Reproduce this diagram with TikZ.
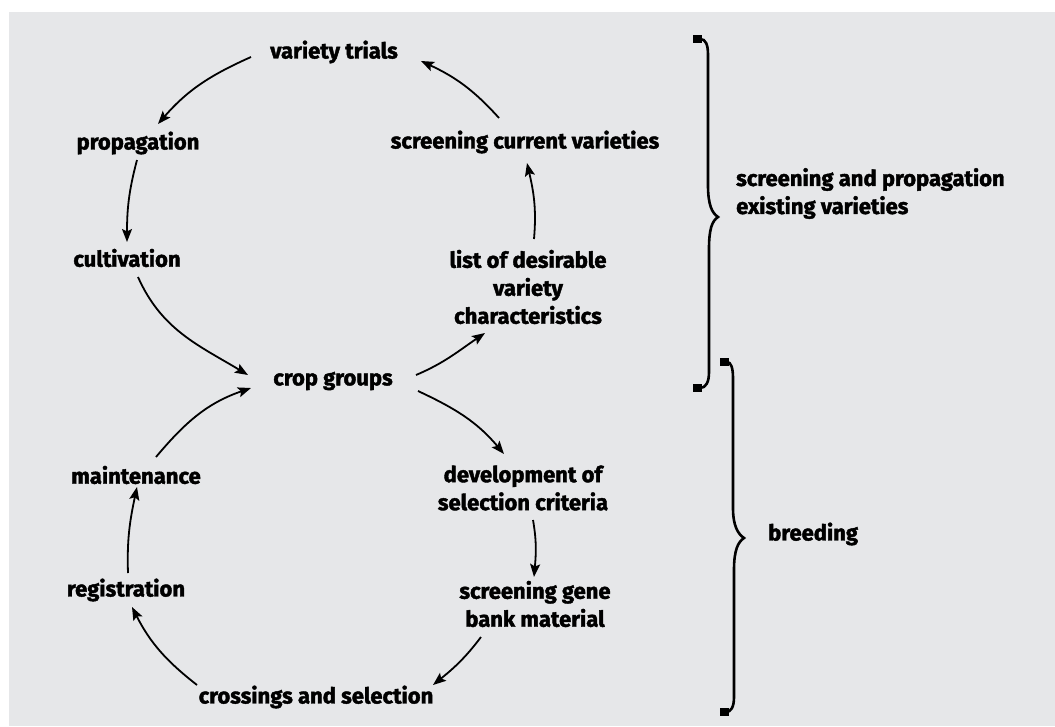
\documentclass[tikz,border=0pt]{standalone}
\usepackage{fontspec}
\setmainfont{Fira Sans}[BoldFeatures={FakeBold=1.8}]
\usetikzlibrary{arrows.meta,calc}
\definecolor{bg}{HTML}{E6E7E9}
\begin{document}
\begin{tikzpicture}[x=1pt,y=1pt,
  lbl/.style={font=\fontsize{22}{28}\selectfont\bfseries, inner sep=0pt, align=center},
  conn/.style={line width=1.8pt, -{Stealth[length=13pt,width=10pt,inset=2.5pt]}},
  bracepath/.style={line width=2.6pt},
  braceend/.style={line width=8pt}]
\useasboundingbox (0,0) rectangle (1055,-726);
\fill[white] (0,0) rectangle (1055,-726);
\fill[bg] (9,-12) rectangle (1055,-726);

\node[lbl] (vt) at (334,-52) {variety trials};
\node[lbl] (prop) at (138,-143) {propagation};
\node[lbl] (cult) at (127,-258) {cultivation};
\node[lbl] (crop) at (333,-381) {crop groups};
\node[lbl] (maint) at (136,-475) {maintenance};
\node[lbl] (reg) at (126,-590) {registration};
\node[lbl] (cross) at (316,-697) {crossings and selection};
\node[lbl] (scv) at (525,-142) {screening current varieties};
\node[lbl] (list) at (528,-287) {list of desirable\\variety\\characteristics};
\node[lbl] (dev) at (523,-488) {development of\\selection criteria};
\node[lbl] (sgb) at (535,-604) {screening gene\\bank material};
\node[lbl, anchor=west, align=left] (spe) at (736,-193.5) {screening and propagation\\existing varieties};
\node[lbl, anchor=west] (br) at (768,-534) {breeding};

\draw[conn] ($(vt)+(-83,-5)$) to[out=204,in=49] ($(prop)+(20,19)$);
\draw[conn] ($(prop)+(-1,-17)$) to[out=255,in=90] ($(cult)+(0,16)$);
\draw[conn] ($(cult)+(11,-19)$) to[out=294,in=149] ($(crop)+(-85,6)$);
\draw[conn] ($(maint)+(20,18)$) to[out=50,in=199] ($(crop)+(-82,-7)$);
\draw[conn] ($(reg)+(2,17)$) to[out=92,in=258] ($(maint)+(1,-12)$);
\draw[conn] ($(cross)+(-119,12)$) to[out=142,in=297] ($(reg)+(6,-17)$);
\draw[conn] ($(sgb)+(-54,-33)$) to[out=233,in=39] ($(cross)+(117,12)$);
\draw[conn] ($(dev)+(10,-32)$) to[out=280,in=85] ($(sgb)+(-1,27)$);
\draw[conn] ($(crop)+(85,-10)$) to[out=335,in=130] ($(dev)+(-19,34)$);
\draw[conn] ($(crop)+(83,6)$) to[out=23,in=214] ($(list)+(-43,-46)$);
\draw[conn] ($(list)+(6,48)$) to[out=85,in=283] ($(scv)+(2,-21)$);
\draw[conn] ($(scv)+(-26,24)$) to[out=132,in=335] ($(vt)+(87,-9)$);

% upper brace
\draw[bracepath] (696,-39) -- (700,-39) .. controls (706,-39) and (708,-45) .. (708,-55)
  -- (708,-185) .. controls (708,-205) and (712,-213) .. (718,-217)
  .. controls (712,-221) and (709,-229) .. (709,-249)
  -- (709,-372) .. controls (709,-382) and (706,-388) .. (700,-388) -- (696,-388);
\draw[braceend] (693,-39) -- (702,-39);
\draw[braceend] (693,-388) -- (702,-388);
% lower brace
\draw[bracepath] (723,-362) -- (727,-362) .. controls (731,-362) and (733,-368) .. (733,-378)
  -- (733,-508) .. controls (733,-526) and (738,-534) .. (744,-538)
  .. controls (738,-542) and (734,-550) .. (734,-570)
  -- (734,-697) .. controls (734,-707) and (731,-712) .. (726,-712) -- (723,-712);
\draw[braceend] (720,-362) -- (729,-362);
\draw[braceend] (720,-712) -- (729,-712);
\end{tikzpicture}
\end{document}
